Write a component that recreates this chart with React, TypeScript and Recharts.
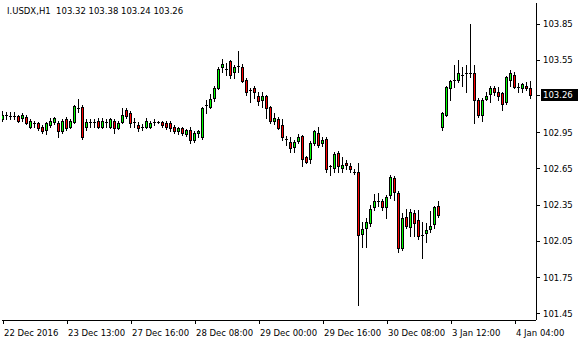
import React from 'react';
import { ComposedChart, Bar, XAxis, YAxis } from 'recharts';

const openP = [
  103.06, 103.10, 103.09, 103.09, 103.09, 103.07, 103.08, 103.00, 103.03, 103.03,
  103.00, 102.97, 103.01, 103.04, 103.03, 102.96, 103.06, 103.00, 103.04, 103.15,
  103.16, 103.00, 103.04, 103.04, 103.05, 103.00, 103.04, 103.00, 103.05, 102.99,
  103.04, 103.14, 103.11, 103.04, 103.01, 103.00, 103.00, 103.00, 103.04, 103.04,
  103.04, 103.03, 103.03, 103.00, 102.96, 102.99, 102.94, 102.97, 102.89, 102.95,
  102.91, 103.18, 103.16, 103.24, 103.32, 103.49, 103.48, 103.54, 103.45, 103.50,
  103.49, 103.39, 103.30, 103.32, 103.25, 103.22, 103.25, 103.16, 103.05, 103.06,
  103.01, 102.90, 102.87, 102.83, 102.88, 102.92, 102.75, 102.73, 102.86, 102.95,
  102.86, 102.90, 102.67, 102.66, 102.78, 102.66, 102.70, 102.67, 102.62, 102.62,
  102.11, 102.16, 102.20, 102.33, 102.38, 102.38, 102.33, 102.43, 102.57, 102.45,
  101.99, 102.25, 102.17, 102.28, 102.23, 102.10, 102.12, 102.15, 102.19, 102.34,
  103.00, 103.10, 103.32, 103.39, 103.39, 103.43, 103.44, 103.44, 103.44, 103.22,
  103.10, 103.23, 103.27, 103.32, 103.29, 103.28, 103.20, 103.39, 103.43, 103.33,
  103.32, 103.34, 103.32,
];
const highP = [
  103.13, 103.12, 103.12, 103.12, 103.10, 103.11, 103.10, 103.06, 103.05, 103.04,
  103.01, 103.04, 103.07, 103.08, 103.05, 103.06, 103.08, 103.06, 103.18, 103.23,
  103.18, 103.06, 103.06, 103.06, 103.07, 103.07, 103.06, 103.07, 103.06, 103.05,
  103.15, 103.15, 103.13, 103.07, 103.04, 103.02, 103.07, 103.05, 103.06, 103.05,
  103.05, 103.05, 103.05, 103.01, 103.00, 103.00, 102.98, 103.00, 102.96, 102.97,
  103.16, 103.22, 103.27, 103.34, 103.49, 103.56, 103.53, 103.55, 103.51, 103.63,
  103.52, 103.40, 103.32, 103.34, 103.29, 103.29, 103.26, 103.17, 103.11, 103.08,
  103.06, 102.92, 102.91, 102.89, 102.94, 102.93, 102.76, 102.88, 102.97, 103.00,
  102.91, 102.91, 102.68, 102.79, 102.80, 102.75, 102.72, 102.70, 102.65, 102.70,
  102.21, 102.24, 102.35, 102.44, 102.45, 102.40, 102.43, 102.60, 102.59, 102.47,
  102.28, 102.32, 102.32, 102.31, 102.31, 102.21, 102.20, 102.30, 102.34, 102.38,
  103.12, 103.34, 103.39, 103.51, 103.55, 103.49, 103.51, 103.85, 103.51, 103.24,
  103.24, 103.29, 103.34, 103.34, 103.33, 103.29, 103.42, 103.47, 103.45, 103.36,
  103.36, 103.37, 103.38,
];
const lowP = [
  103.05, 103.06, 103.06, 103.06, 103.04, 103.05, 103.02, 102.99, 103.00, 102.97,
  102.95, 102.94, 103.00, 103.02, 102.91, 102.95, 102.97, 102.99, 103.03, 103.12,
  102.90, 102.97, 103.00, 103.00, 102.99, 102.99, 103.00, 102.99, 102.95, 102.98,
  103.03, 103.07, 103.00, 103.00, 102.96, 102.97, 102.99, 102.99, 103.01, 103.03,
  103.00, 102.98, 102.96, 102.95, 102.94, 102.93, 102.92, 102.86, 102.87, 102.91,
  102.90, 103.11, 103.15, 103.21, 103.31, 103.45, 103.43, 103.40, 103.40, 103.45,
  103.37, 103.26, 103.20, 103.24, 103.18, 103.16, 103.07, 103.03, 103.02, 102.98,
  102.89, 102.85, 102.79, 102.79, 102.86, 102.67, 102.70, 102.70, 102.85, 102.83,
  102.84, 102.62, 102.60, 102.62, 102.62, 102.62, 102.65, 102.62, 102.61, 101.52,
  102.00, 102.00, 102.18, 102.31, 102.34, 102.31, 102.24, 102.41, 102.39, 101.96,
  101.98, 102.16, 102.09, 102.09, 102.07, 101.91, 102.04, 102.13, 102.16, 102.25,
  102.97, 103.09, 103.22, 103.33, 103.37, 103.34, 103.29, 103.41, 103.03, 103.08,
  103.05, 103.22, 103.20, 103.26, 103.22, 103.14, 103.19, 103.34, 103.32, 103.29,
  103.29, 103.30, 103.24,
];
const closeP = [
  103.10, 103.10, 103.09, 103.09, 103.05, 103.10, 103.03, 103.05, 103.02, 102.99,
  102.96, 103.03, 103.05, 103.07, 102.96, 103.05, 102.99, 103.05, 103.17, 103.15,
  102.91, 103.04, 103.04, 103.04, 103.00, 103.05, 103.04, 103.06, 102.99, 103.03,
  103.10, 103.09, 103.03, 103.04, 102.99, 102.99, 103.05, 103.03, 103.04, 103.04,
  103.01, 103.00, 102.99, 102.96, 102.99, 102.95, 102.97, 102.89, 102.95, 102.96,
  103.15, 103.18, 103.23, 103.32, 103.48, 103.52, 103.48, 103.43, 103.49, 103.50,
  103.38, 103.29, 103.30, 103.29, 103.21, 103.25, 103.15, 103.05, 103.07, 102.99,
  102.91, 102.90, 102.82, 102.87, 102.91, 102.73, 102.71, 102.86, 102.96, 102.85,
  102.89, 102.65, 102.67, 102.77, 102.67, 102.68, 102.68, 102.65, 102.62, 102.10,
  102.15, 102.21, 102.32, 102.38, 102.38, 102.33, 102.42, 102.58, 102.46, 101.99,
  102.24, 102.18, 102.29, 102.20, 102.09, 102.10, 102.14, 102.18, 102.33, 102.27,
  103.11, 103.33, 103.38, 103.39, 103.44, 103.43, 103.44, 103.44, 103.22, 103.10,
  103.22, 103.25, 103.32, 103.29, 103.25, 103.19, 103.41, 103.44, 103.33, 103.33,
  103.35, 103.32, 103.26,
];

const xTickBars = [0, 16, 32, 48, 64, 80, 96, 112, 128];
const xTickLabels = [
  '22 Dec 2016', '23 Dec 13:00', '27 Dec 16:00', '28 Dec 08:00', '29 Dec 00:00',
  '29 Dec 16:00', '30 Dec 08:00', '3 Jan 12:00', '4 Jan 04:00',
];
const yTicks = [101.45, 101.75, 102.05, 102.35, 102.65, 102.95, 103.55, 103.85];
const lastPrice = 103.26;
const title = 'I.USDX,H1  103.32 103.38 103.24 103.26';

const yDomain: [number, number] = [101.3976, 104.024];
const xDomain: [number, number] = [-0.25, 133.25];

const FONT = "'DejaVu Sans', sans-serif";
const FS = 8.5;
const BULL = '#00ff00';
const BEAR = '#ff0000';

const data = openP.map((o, i) => ({
  i,
  o,
  h: highP[i],
  l: lowP[i],
  c: closeP[i],
  range: [lowP[i], highP[i]],
}));

const Candle = (props: any) => {
  const { x, y, width, height, payload } = props;
  if (x == null || y == null || !payload) return null;
  const { o, h, l, c } = payload;
  const cx = Math.floor(x + width / 2);
  const top = Math.min(y, y + height);
  const hh = Math.abs(height);
  const k = h - l > 0 ? hh / (h - l) : 0;
  const yO = top + (h - o) * k;
  const yC = top + (h - c) * k;
  const yTop = Math.round(top);
  const yBot = Math.round(top + hh);
  const bTop = Math.round(Math.min(yO, yC));
  const bBot = Math.round(Math.max(yO, yC));
  const wick = (
    <line x1={cx + 0.5} x2={cx + 0.5} y1={yTop} y2={yBot + 1} stroke="#000" strokeWidth={1} />
  );
  if (bBot - bTop < 2) {
    return (
      <g shapeRendering="crispEdges">
        {wick}
        <line x1={cx - 1} x2={cx + 2} y1={bTop + 0.5} y2={bTop + 0.5} stroke="#000" strokeWidth={1} />
      </g>
    );
  }
  return (
    <g shapeRendering="crispEdges">
      {wick}
      <rect
        x={cx - 0.5}
        y={bTop + 0.5}
        width={2}
        height={bBot - bTop}
        fill={c >= o ? BULL : BEAR}
        stroke="#000"
        strokeWidth={1}
      />
    </g>
  );
};

const YTick = (props: any) => {
  const { x, y, payload } = props;
  const v = payload.value as number;
  const isLast = Math.abs(v - lastPrice) < 1e-6;
  if (isLast) {
    return (
      <g>
        <rect x={x - 2} y={Math.round(y) - 6} width={37} height={12} fill="#000" shapeRendering="crispEdges" />
        <text x={x} y={y} dy={3.2} fill="#fff" fontSize={FS} fontFamily={FONT} textAnchor="start">
          {v.toFixed(2)}
        </text>
      </g>
    );
  }
  return (
    <text x={x} y={y} dy={3.2} fill="#000" fontSize={FS} fontFamily={FONT} textAnchor="start">
      {v.toFixed(2)}
    </text>
  );
};

const XTick = (props: any) => {
  const { x, y, payload } = props;
  const idx = xTickBars.indexOf(payload.value);
  const label = idx >= 0 ? xTickLabels[idx] : '';
  return (
    <text x={x + 1} y={y} dy={9.5} fill="#000" fontSize={FS} fontFamily={FONT} textAnchor="start">
      {label}
    </text>
  );
};

const axisLineStyle = { stroke: '#000', strokeWidth: 1, shapeRendering: 'crispEdges' } as any;

export default function App() {
  return (
    <div style={{ position: 'fixed', left: 0, top: 0, width: 580, height: 340, background: '#fff' }}>
      <ComposedChart
        width={580}
        height={340}
        data={data}
        margin={{ top: 3, right: 0, bottom: 0, left: 2 }}
      >
        <XAxis
          dataKey="i"
          type="number"
          domain={xDomain}
          allowDataOverflow
          ticks={xTickBars}
          interval={0}
          height={20}
          tickSize={4}
          tickMargin={2}
          axisLine={axisLineStyle}
          tickLine={axisLineStyle}
          tick={<XTick />}
        />
        <XAxis
          xAxisId="frameTop"
          dataKey="i"
          type="number"
          orientation="top"
          domain={xDomain}
          allowDataOverflow
          height={0}
          tick={false}
          tickLine={false}
          axisLine={axisLineStyle}
        />
        <YAxis
          type="number"
          orientation="right"
          domain={yDomain}
          allowDataOverflow
          ticks={[...yTicks, lastPrice]}
          interval={0}
          width={44}
          tickSize={4}
          tickMargin={3}
          axisLine={axisLineStyle}
          tickLine={axisLineStyle}
          tick={<YTick />}
        />
        <YAxis
          yAxisId="frameLeft"
          type="number"
          orientation="left"
          domain={yDomain}
          allowDataOverflow
          width={0}
          tick={false}
          tickLine={false}
          axisLine={axisLineStyle}
        />
        <Bar dataKey="range" barSize={3} shape={<Candle />} isAnimationActive={false} />
      </ComposedChart>
      <div
        style={{
          position: 'absolute',
          left: 7,
          top: 6,
          fontFamily: FONT,
          fontSize: FS,
          lineHeight: '10px',
          color: '#000',
          whiteSpace: 'pre',
        }}
      >
        {title}
      </div>
    </div>
  );
}
